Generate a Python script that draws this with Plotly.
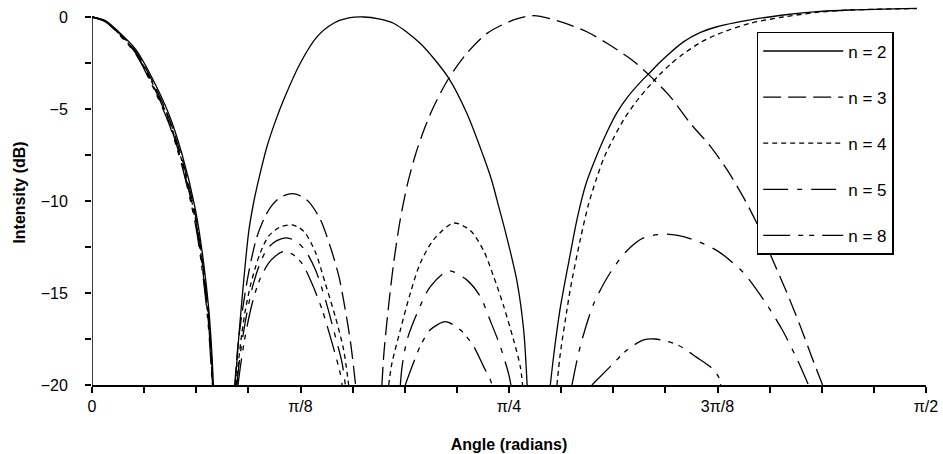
import math
import plotly.graph_objects as go

# ---------------- data (angle in rad, intensity in dB) ----------------
# None separates the individual lobes of each curve
theta_n2 = [0, 0.025, 0.05, 0.082, 0.113, 0.145, 0.17, 0.195, 0.21, 0.22, 0.226, 0.2285, None,
            0.2695, 0.2764, 0.2858, 0.2955, 0.305, 0.315, 0.330, 0.345, 0.361, 0.3925, 0.424, 0.455,
            0.4835, 0.5117, 0.54, 0.568, 0.618, 0.672, 0.706, 0.7376, 0.753, 0.7628, 0.778, 0.800,
            0.813, 0.8195, None,
            0.8632, 0.87, 0.882, 0.9, 0.915, 0.93, 0.951, 0.97, 0.9887, 1.01, 1.0326, 1.0514, 1.07,
            1.0828, 1.114, 1.145, 1.177, 1.24, 1.302, 1.365, 1.428, 1.5535]
db_n2 = [0, -0.2, -0.8, -1.75, -3.3, -5.3, -7.5, -10.5, -13.3, -15.9, -18.4, -20, None,
         -20, -17.4, -14.3, -11.6, -10.0, -8.7, -7.0, -5.7, -4.5, -2.5, -1.07, -0.34,
         -0.05, 0.0, -0.1, -0.34, -1.43, -3.33, -5.23, -7.6, -8.9, -9.95, -11.6, -14.3,
         -17.0, -20, None,
         -20, -18.3, -15.8, -13.0, -10.8, -9.1, -7.5, -6.25, -5.2, -4.3, -3.55, -3.0, -2.45,
         -2.1, -1.35, -0.85, -0.53, -0.16, 0.11, 0.29, 0.38, 0.47]

theta_n3 = [0, 0.025, 0.05, 0.082, 0.113, 0.145, 0.17, 0.195, 0.21, 0.22, 0.226, 0.2282, None,
            0.2689, 0.275, 0.283, 0.295, 0.31, 0.325, 0.34, 0.355, 0.377, 0.395, 0.41, 0.43, 0.449,
            0.465, 0.477, 0.487, 0.4965, None,
            0.546, 0.55, 0.559, 0.568, 0.58, 0.594, 0.609, 0.625, 0.643, 0.672, 0.706, 0.744, 0.794,
            0.832, 0.882, 0.932, 0.97, 1.02, 1.051, 1.089, 1.127, 1.164, 1.196, 1.227, 1.252, 1.2835,
            1.309, 1.334, 1.356, 1.376]
db_n3 = [0, -0.22, -0.85, -1.85, -3.45, -5.5, -7.75, -10.8, -13.7, -16.3, -18.9, -20, None,
         -20, -17.8, -16.0, -13.9, -12.0, -10.9, -10.2, -9.8, -9.6, -9.75, -10.1, -11.0, -12.5,
         -14.1, -15.9, -17.7, -20, None,
         -20, -18.2, -15.6, -13.4, -11.1, -9.1, -7.5, -6.15, -4.9, -3.33, -1.97, -0.89, -0.16,
         0.07, -0.25, -0.8, -1.43, -2.4, -3.2, -4.33, -5.78, -7.0, -8.3, -9.8, -11.2, -13.3,
         -15.0, -16.8, -18.5, -20]

theta_n4 = [0, 0.025, 0.05, 0.082, 0.113, 0.145, 0.17, 0.195, 0.21, 0.22, 0.226, 0.2276, None,
            0.2714, 0.2764, 0.2827, 0.289, 0.2984, 0.3078, 0.3172, 0.3329, 0.355, 0.377, 0.39, 0.402,
            0.421, 0.4396, 0.4584, 0.474, 0.4834, None,
            0.5588, 0.565, 0.5808, 0.5996, 0.618, 0.6434, 0.6811, 0.7126, 0.7376, 0.7564, 0.7752,
            0.794, 0.8067, 0.811, None,
            0.8757, 0.882, 0.8946, 0.9008, 0.9196, 0.935, 0.95, 0.965, 0.982, 1.001, 1.025, 1.051,
            1.07, 1.09, 1.114, 1.145, 1.177, 1.24, 1.302, 1.365, 1.428, 1.5535]
db_n4 = [0, -0.23, -0.88, -1.9, -3.55, -5.6, -7.9, -11.0, -13.9, -16.6, -19.2, -20, None,
         -20, -18.6, -17.1, -15.9, -14.6, -13.6, -12.8, -11.9, -11.4, -11.3, -11.45, -11.75,
         -12.8, -14.5, -16.3, -18.1, -20, None,
         -20, -18.8, -17.0, -15.0, -13.4, -12.1, -11.2, -11.6, -12.7, -14.1, -15.7,
         -17.55, -19.0, -20, None,
         -20, -18.3, -15.9, -14.8, -12.1, -10.2, -8.8, -7.6, -6.6, -5.6, -4.6, -3.7,
         -3.1, -2.55, -2.0, -1.4, -0.95, -0.34, 0.0, 0.25, 0.38, 0.46]

theta_n5 = [0, 0.025, 0.05, 0.082, 0.113, 0.145, 0.17, 0.195, 0.21, 0.22, 0.226, 0.2272, None,
            0.273, 0.278, 0.285, 0.293, 0.303, 0.315, 0.33, 0.348, 0.367, 0.385, 0.402, 0.421, 0.44,
            0.455, 0.471, 0.4772, None,
            0.5808, 0.584, 0.5934, 0.6122, 0.6372, 0.6717, 0.7063, 0.7314, 0.75, 0.769, 0.7847,
            0.789, None,
            0.904, 0.9196, 0.9447, 0.976, 1.0075, 1.0388, 1.0828, 1.133, 1.18, 1.227, 1.268, 1.30,
            1.328, 1.3494]
db_n5 = [0, -0.24, -0.9, -1.95, -3.6, -5.7, -8.0, -11.1, -14.1, -16.8, -19.4, -20, None,
         -20, -18.6, -17.2, -15.9, -14.6, -13.5, -12.6, -12.15, -12.0, -12.2, -12.7, -13.75, -15.4,
         -17.0, -18.8, -20, None,
         -20, -19.0, -17.55, -16.1, -14.65, -13.8, -14.3, -15.2, -16.5, -17.9, -19.4,
         -20, None,
         -20, -17.9, -15.6, -13.9, -12.7, -12.0, -11.8, -12.1, -12.75, -13.9, -15.5, -17.0,
         -18.6, -20]

theta_n8 = [0, 0.025, 0.05, 0.082, 0.113, 0.145, 0.17, 0.195, 0.21, 0.22, 0.226, 0.227, None,
            0.275, 0.28, 0.287, 0.295, 0.305, 0.317, 0.332, 0.345, 0.361, 0.378, 0.3957, 0.4145,
            0.4334, 0.452, 0.4678, 0.471, None,
            0.590, 0.6028, 0.618, 0.6372, 0.6655, 0.6937, 0.7188, 0.7376, 0.750, 0.7534, None,
            0.9416, 0.976, 1.0075, 1.0388, 1.0608, 1.1017, 1.139, 1.164, 1.18, 1.184]
db_n8 = [0, -0.25, -0.92, -2.0, -3.7, -5.8, -8.15, -11.3, -14.3, -17.1, -19.7, -20, None,
         -20, -18.9, -17.6, -16.4, -15.2, -14.2, -13.4, -13.0, -12.75, -12.9, -13.4, -14.5,
         -15.9, -17.7, -19.4, -20, None,
         -20, -19.0, -17.9, -17.0, -16.56, -17.0, -17.9, -19.0, -19.7, -20, None,
         -20, -19.0, -18.1, -17.55, -17.5, -17.8, -18.5, -19.0, -19.55, -20]

series_names = ["n = 2", "n = 3", "n = 4", "n = 5", "n = 8"]

x_tickvals = [k * math.pi / 32 for k in range(17)]
x_ticktext = ["0", "", "", "", "π/8", "", "", "", "π/4", "", "", "", "3π/8", "", "", "", "π/2"]
y_tickvals = [-20, -17.5, -15, -12.5, -10, -7.5, -5, -2.5, 0]
y_ticktext = ["−20", "", "−15", "", "−10", "", "−5", "", "0"]

# ---------------- styling ----------------
FONT = "Liberation Sans, Arial, Helvetica, sans-serif"
dashes = ["solid", "18px,7px", "5px,4px", "25px,9px,5px,9px", "27px,8px,5px,6px,5px,8px"]
xs = [theta_n2, theta_n3, theta_n4, theta_n5, theta_n8]
ys = [db_n2, db_n3, db_n4, db_n5, db_n8]

X_RANGE = [0, math.pi / 2]
Y_RANGE = [-20, 0.924]

fig = go.Figure()
for i, name in enumerate(series_names):
    fig.add_trace(go.Scatter(
        x=xs[i], y=ys[i], name=name, mode="lines",
        line=dict(color="black", width=1.3, dash=dashes[i], shape="spline", smoothing=0.8),
        connectgaps=False, legendgroup=name, hoverinfo="skip",
    ))

tick_common = dict(tickcolor="black", tickwidth=1.5, ticklen=6)

fig.update_layout(
    width=943, height=454,
    margin=dict(l=91.5, r=17, t=0, b=69),
    paper_bgcolor="white", plot_bgcolor="white",
    font=dict(family=FONT, size=16, color="black"),
    showlegend=True,
    legend=dict(
        x=0.797, y=0.917, xanchor="left", yanchor="top",
        bgcolor="white", bordercolor="black", borderwidth=1.5,
        font=dict(family=FONT, size=17, color="black"),
        itemwidth=80, tracegroupgap=21,
    ),
    xaxis=dict(
        range=X_RANGE, showgrid=False, zeroline=False,
        showline=True, linecolor="black", linewidth=2,
        tickmode="array", tickvals=x_tickvals, ticktext=x_ticktext,
        ticks="outside", **tick_common,
        tickfont=dict(family=FONT, size=16),
        title=dict(text="Angle (radians)", font=dict(family=FONT, size=16, weight="bold"), standoff=25),
    ),
    xaxis2=dict(
        range=X_RANGE, overlaying="x", anchor="y", showgrid=False, zeroline=False,
        showline=False, tickmode="array", tickvals=x_tickvals, showticklabels=False,
        ticks="inside", **tick_common,
    ),
    yaxis=dict(
        range=Y_RANGE, showgrid=False, zeroline=False, showline=False,
        tickmode="array", tickvals=y_tickvals, ticktext=y_ticktext,
        ticks="outside", **tick_common, ticklabelstandoff=14,
        tickfont=dict(family=FONT, size=16),
        title=dict(text="Intensity (dB)", font=dict(family=FONT, size=16, weight="bold"), standoff=11),
    ),
    yaxis2=dict(
        range=Y_RANGE, overlaying="y", anchor="x", side="left", showgrid=False, zeroline=False,
        showline=False, tickmode="array", tickvals=y_tickvals, showticklabels=False,
        ticks="inside", **tick_common,
    ),
    shapes=[dict(type="line", xref="x", yref="y", x0=0, x1=0, y0=Y_RANGE[0], y1=0,
                 line=dict(color="black", width=1.5), layer="above")],
)

fig.write_html("out.html", config={"displayModeBar": False},
               post_script="document.body.style.margin='0px';")
